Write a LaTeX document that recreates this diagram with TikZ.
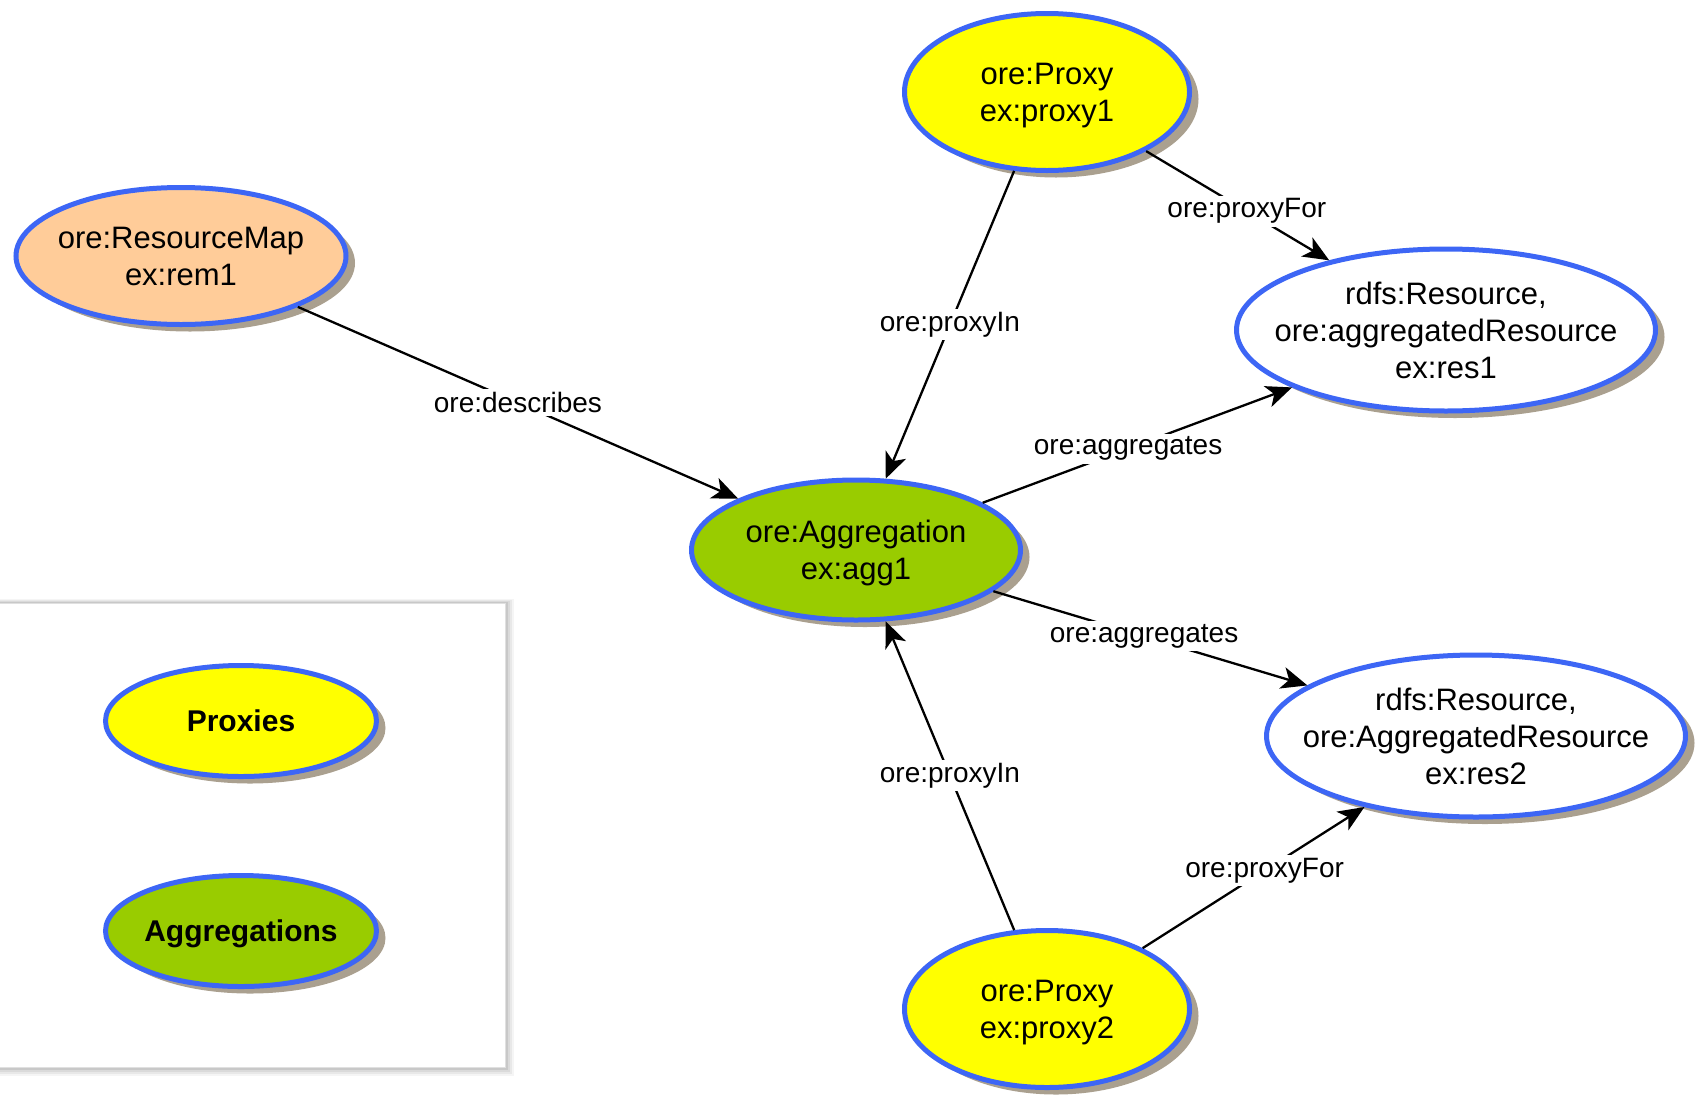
\documentclass[tikz,border=0pt]{standalone}
\usepackage{fontspec}
\setmainfont{Liberation Sans}
\usetikzlibrary{shapes.geometric,arrows.meta,shadows}

\definecolor{oreblue}{RGB}{61,102,245}
\definecolor{proxyyellow}{RGB}{255,255,0}
\definecolor{agggreen}{RGB}{153,204,0}
\definecolor{mappeach}{RGB}{255,204,153}
\definecolor{dropshade}{RGB}{170,160,143}

\tikzset{
  rdfnode/.style={ellipse, draw=oreblue, line width=5pt, inner xsep=-30pt, inner ysep=0pt,
    text depth=0pt, align=center, font=\fontsize{31}{37}\selectfont,
    drop shadow={shadow xshift=9pt, shadow yshift=-7pt, fill=dropshade, opacity=1}},
  proxynode/.style={rdfnode, fill=proxyyellow, minimum width=285pt, minimum height=157pt},
  aggnode/.style={rdfnode, fill=agggreen, minimum width=329pt, minimum height=140pt},
  mapnode/.style={rdfnode, fill=mappeach, minimum width=330pt, minimum height=137pt},
  resnode/.style={rdfnode, fill=white, minimum width=419pt, minimum height=162pt},
  keynode/.style={rdfnode, minimum width=271pt, minimum height=111pt,
    font=\fontsize{30}{36}\selectfont\bfseries},
  edge/.style={line width=2.3pt, -{Stealth[length=26pt,width=22pt,inset=7pt]}},
  elabel/.style={fill=white, inner sep=3pt, font=\fontsize{28}{32}\selectfont}
}

\begin{document}
\begin{tikzpicture}[x=1pt,y=-1pt]
  \useasboundingbox (0,0) rectangle (1696,1098);
  \clip (0,0) rectangle (1696,1098);
  \fill[white] (0,0) rectangle (1696,1098);

  % legend panel with a soft shadow
  \foreach \d/\o in {9/0.04,7/0.05,5/0.06,3/0.08}
    \fill[black, opacity=\o] (-30,603-\d*0.4) rectangle (505+\d,1067+\d);
  \filldraw[fill=white, draw=black!12, line width=1pt] (-30,603) rectangle (505,1067);
  \node[keynode, fill=proxyyellow] (keyproxy) at (241,721) {Proxies};
  \node[keynode, fill=agggreen] (keyagg) at (241,931) {Aggregations};

  % resource nodes
  \node[mapnode] (rem) at (181,256) {ore:ResourceMap\\ex:rem1};
  \node[aggnode] (agg) at (856,550) {ore:Aggregation\\ex:agg1};
  \node[proxynode] (proxy1) at (1047,92) {ore:Proxy\\ex:proxy1};
  \node[proxynode] (proxy2) at (1047,1009) {ore:Proxy\\ex:proxy2};
  \node[resnode] (res1) at (1446,330) {rdfs:Resource,\\ore:aggregatedResource\\ex:res1};
  \node[resnode] (res2) at (1476,736) {rdfs:Resource,\\ore:AggregatedResource\\ex:res2};

  % relations
  \draw[edge] (rem) -- node[elabel] {ore:describes} (agg);
  \draw[edge] (proxy1) -- node[elabel] {ore:proxyIn} (agg);
  \draw[edge] (proxy1) -- node[elabel, pos=0.55] {ore:proxyFor} (res1);
  \draw[edge] (agg) -- node[elabel, pos=0.47] {ore:aggregates} (res1);
  \draw[edge] (agg) -- node[elabel, pos=0.48] {ore:aggregates} (res2);
  \draw[edge] (proxy2) -- node[elabel] {ore:proxyIn} (agg);
  \draw[edge] (proxy2) -- node[elabel, pos=0.55] {ore:proxyFor} (res2);
\end{tikzpicture}
\end{document}
